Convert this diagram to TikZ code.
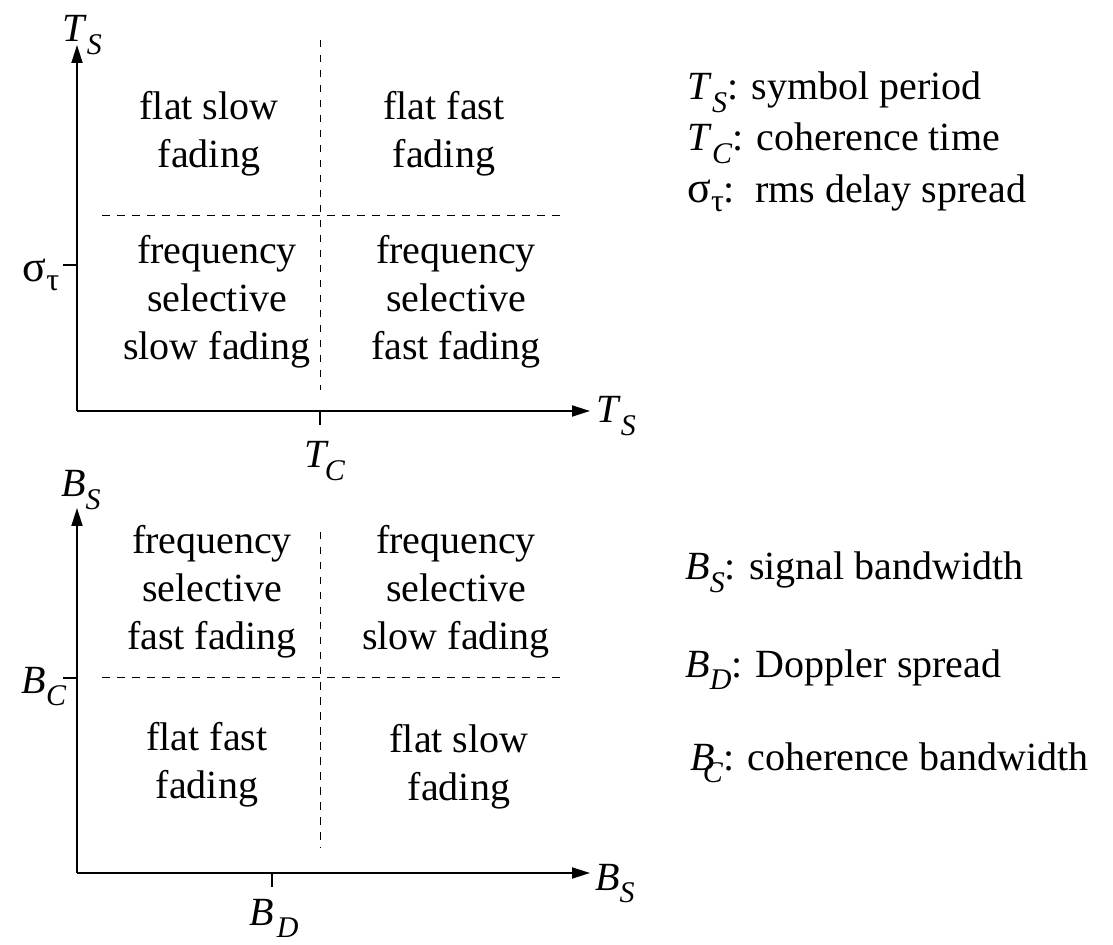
\documentclass[tikz,border=0pt]{standalone}
\usepackage{fontspec}
\setmainfont{Liberation Serif}
\usetikzlibrary{arrows.meta}

% italic symbol with lowered italic index
\newcommand\lbl[3][0em]{\textit{#2}\kern#1\raisebox{-.32em}{\fontsize{15}{15}\selectfont\textit{#3}}}
\newcommand\sigtau{{\fontsize{22}{22}\selectfont σ}\raisebox{-.22em}{\fontsize{16}{16}\selectfont τ}}

\begin{document}
\begin{tikzpicture}[x=0.5pt, y=-0.5pt,
    axis/.style={line width=0.9pt, -{Triangle[length=9pt,width=5.5pt]}},
    tickline/.style={line width=0.9pt},
    split/.style={line width=0.5pt, dash pattern=on 3.75pt off 3.75pt},
    region/.style={align=center, inner sep=0pt},
    legend/.style={anchor=base west, inner sep=0pt},
    font=\fontsize{20}{24}\selectfont]
  \useasboundingbox (0,0) rectangle (1113,945);

  % upper chart: sigma_tau vs T_C
  \coordinate (o1) at (77,411);
  \coordinate (y1) at (77,45);
  \coordinate (x1) at (590,411);
  \coordinate (st) at (63,265);
  \coordinate (tc) at (320,425);
  \draw[axis] (o1) -- (y1);
  \draw[axis] (o1) -- (x1);
  \draw[tickline] (st) -- (st -| o1);
  \draw[tickline] (tc) -- (tc |- o1);
  \draw[split] (320,40) -- (320,390);
  \draw[split] (102,216) -- (563,216);

  \node[anchor=base] (ts-up) at (82,42) {\lbl{T}{S}};
  \node[anchor=base] (ts-right) at (616,423) {\lbl{T}{S}};
  \node[anchor=base] (tc-lbl) at (325,468) {\lbl[-.12em]{T}{C}};
  \node[anchor=base] (st-lbl) at (41,282) {\sigtau};

  \node[region] (flat-slow) at (209,134) {flat slow\\fading};
  \node[region] (flat-fast) at (444,134) {flat fast\\fading};
  \node[region] (sel-slow) at (217,302) {frequency\\selective\\slow fading};
  \node[region] (sel-fast) at (456,302) {frequency\\selective\\fast fading};

  % lower chart: B_C vs B_D
  \coordinate (o2) at (77,873);
  \coordinate (y2) at (77,508);
  \coordinate (x2) at (590,873);
  \coordinate (bc) at (63,678);
  \coordinate (bd) at (272,887);
  \draw[axis] (o2) -- (y2);
  \draw[axis] (o2) -- (x2);
  \draw[tickline] (bc) -- (bc -| o2);
  \draw[tickline] (bd) -- (bd |- o2);
  \draw[split] (320,532) -- (320,848);
  \draw[split] (102,678) -- (560,678);

  \node[anchor=base] (bs-up) at (81,497) {\lbl{B}{S}};
  \node[anchor=base] (bs-right) at (615,890) {\lbl{B}{S}};
  \node[anchor=base] (bd-lbl) at (274,925) {\lbl[.08em]{B}{D}};
  \node[anchor=base] (bc-lbl) at (44,693) {\lbl{B}{C}};

  \node[region] (sel-fast2) at (212,592) {frequency\\selective\\fast fading};
  \node[region] (sel-slow2) at (456,592) {frequency\\selective\\slow fading};
  \node[region] (flat-fast2) at (207,765) {flat fast\\fading};
  \node[region] (flat-slow2) at (459,767) {flat slow\\fading};

  % legend
  \node[legend] (leg-ts) at (687,100) {\lbl{T}{S}: symbol period};
  \node[legend] (leg-tc) at (687,151) {\lbl{T}{C}: coherence time};
  \node[legend] (leg-st) at (687,203) {\sigtau:\ \ rms delay spread};
  \node[legend] (leg-bs) at (685,580) {\lbl{B}{S}: signal bandwidth};
  \node[legend] (leg-bd) at (685,677) {\lbl{B}{D}: Doppler spread};
  \node[legend] (leg-bc) at (690,770) {\lbl[-.3em]{B}{C}: coherence bandwidth};
\end{tikzpicture}
\end{document}
